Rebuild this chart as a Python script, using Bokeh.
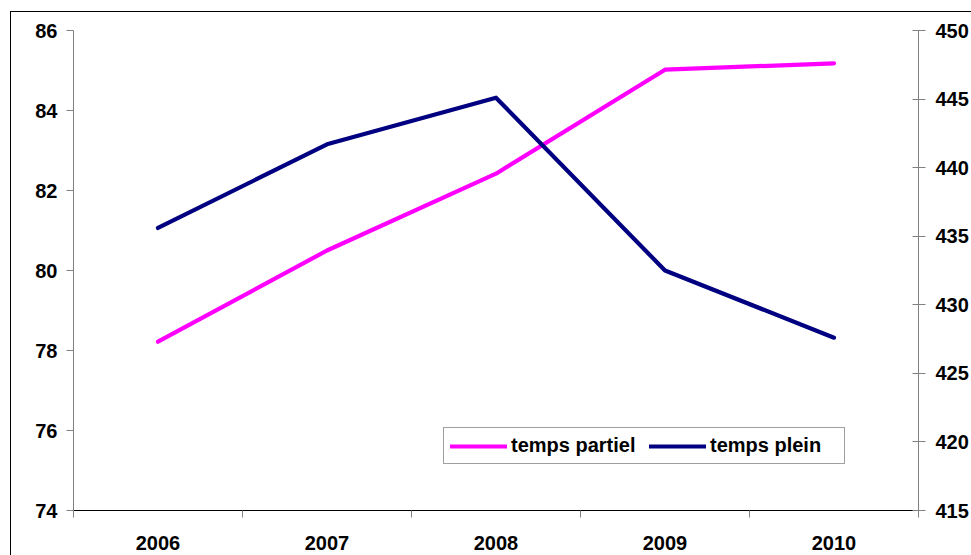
from bokeh.plotting import figure
from bokeh.models import Range1d, LinearAxis, FixedTicker, Legend, LegendItem
from bokeh.embed import file_html
from bokeh.resources import INLINE

years = ["2006", "2007", "2008", "2009", "2010"]
temps_partiel = [78.22, 80.50, 82.42, 85.02, 85.18]
temps_plein = [435.6, 441.7, 445.1, 432.5, 427.6]
left_ticks = [74, 76, 78, 80, 82, 84, 86]
right_ticks = [415, 420, 425, 430, 435, 440, 445, 450]

FONT = "Liberation Sans"
FS = "20px"

xpos = [i + 0.5 for i in range(len(years))]
bounds = list(range(len(years) + 1))

p = figure(width=971, height=555, x_range=Range1d(0, len(years)), y_range=Range1d(74, 86),
           x_axis_location=None, y_axis_location=None,
           output_backend="svg", toolbar_location=None,
           min_border_left=73, min_border_top=30, min_border_right=51, min_border_bottom=45)
p.outline_line_color = None
p.xgrid.visible = False
p.ygrid.visible = False
p.background_fill_color = "white"
p.border_fill_color = None
p.styles = {
    "background": "linear-gradient(#000,#000) 10px 11px / 1px 100% no-repeat, "
                  "linear-gradient(#000,#000) 10px 11px / 100% 1px no-repeat, white",
}

p.extra_y_ranges = {"right": Range1d(415, 450)}

# left axis
ly = LinearAxis(ticker=FixedTicker(ticks=left_ticks))
ly.axis_line_color = "#808080"
ly.major_tick_line_color = "#808080"
ly.major_tick_in = 0
ly.major_tick_out = 7
ly.minor_tick_line_color = None
ly.major_label_text_font = FONT
ly.major_label_text_font_size = FS
ly.major_label_text_font_style = "bold"
ly.major_label_text_color = "black"
ly.major_label_standoff = 9
p.add_layout(ly, "left")

# right axis
ry = LinearAxis(y_range_name="right", ticker=FixedTicker(ticks=right_ticks))
ry.axis_line_color = "#808080"
ry.major_tick_line_color = "#808080"
ry.major_tick_in = 6
ry.major_tick_out = 7
ry.minor_tick_line_color = None
ry.major_label_text_font = FONT
ry.major_label_text_font_size = FS
ry.major_label_text_font_style = "bold"
ry.major_label_text_color = "black"
ry.major_label_standoff = 10
p.add_layout(ry, "right")

# bottom axis with boundary ticks
bx = LinearAxis(ticker=FixedTicker(ticks=bounds))
bx.axis_line_color = "black"
bx.major_tick_line_color = "#808080"
bx.major_tick_in = 0
bx.major_tick_out = 7
bx.minor_tick_line_color = None
bx.major_label_text_font_size = "1px"
bx.major_label_text_color = None
bx.major_label_standoff = 0
p.add_layout(bx, "below")

# category labels
cx = LinearAxis(ticker=FixedTicker(ticks=xpos),
                major_label_overrides={x: y for x, y in zip(xpos, years)})
cx.axis_line_color = None
cx.major_tick_line_color = None
cx.minor_tick_line_color = None
cx.major_label_text_font = FONT
cx.major_label_text_font_size = FS
cx.major_label_text_font_style = "bold"
cx.major_label_text_color = "black"
cx.major_label_standoff = 12
p.add_layout(cx, "below")

r1 = p.line(xpos, temps_partiel, line_color="#FF00FF", line_width=4.2, line_cap="round", line_join="round")
r2 = p.line(xpos, temps_plein, y_range_name="right", line_color="#000080", line_width=4.2,
            line_cap="round", line_join="round")

legend = Legend(items=[LegendItem(label="temps partiel", renderers=[r1]),
                       LegendItem(label="temps plein", renderers=[r2])],
                orientation="horizontal", location=(370, 46))
legend.label_text_font = FONT
legend.label_text_font_size = FS
legend.label_text_font_style = "bold"
legend.label_text_color = "black"
legend.border_line_color = "#404040"
legend.border_line_width = 1
legend.background_fill_color = "white"
legend.background_fill_alpha = 1
legend.glyph_width = 57
legend.glyph_height = 22
legend.label_width = 128
legend.label_standoff = 4
legend.spacing = 10
legend.padding = 6
legend.margin = 0
p.add_layout(legend, "center")

open("out.html", "w").write(file_html(p, INLINE))
